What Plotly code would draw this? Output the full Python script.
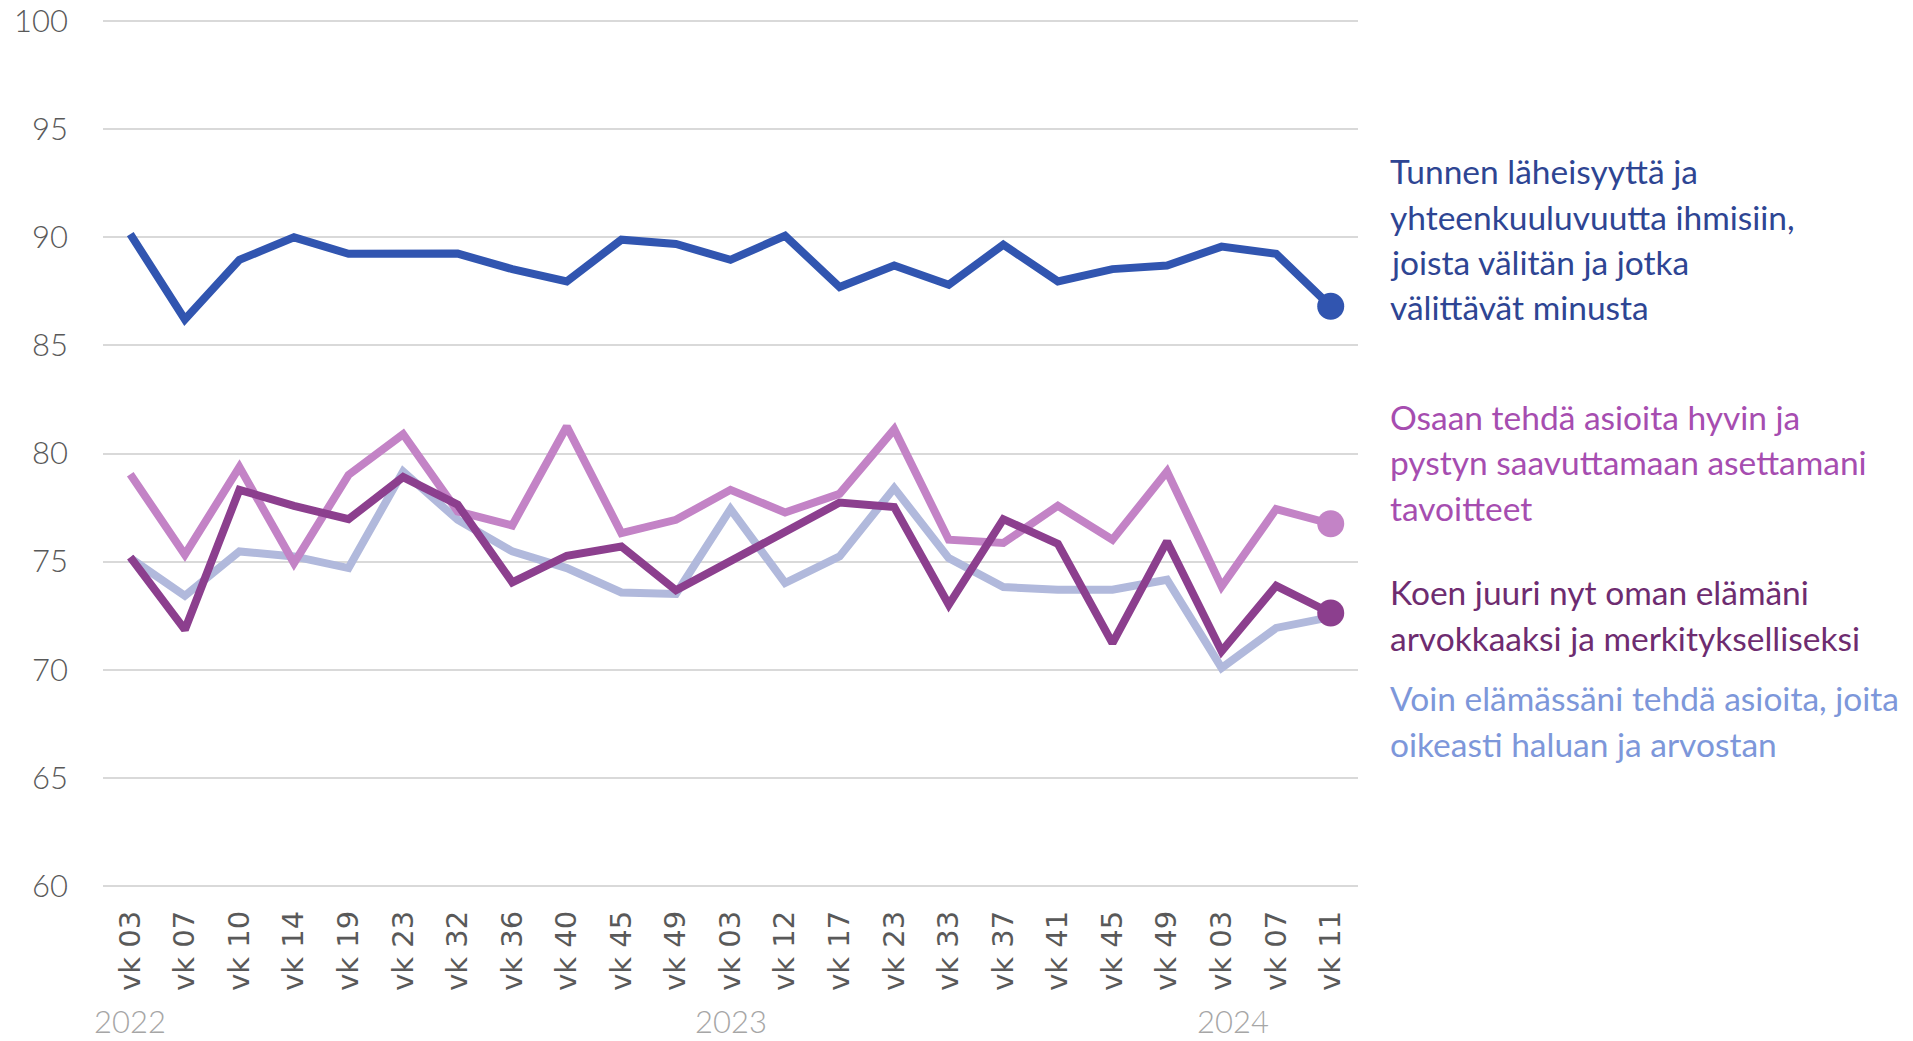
import plotly.graph_objects as go

weeks = ["vk 03", "vk 07", "vk 10", "vk 14", "vk 19", "vk 23", "vk 32", "vk 36", "vk 40", "vk 45", "vk 49",
         "vk 03", "vk 12", "vk 17", "vk 23", "vk 33", "vk 37", "vk 41", "vk 45", "vk 49",
         "vk 03", "vk 07", "vk 11"]
years = ["2022", "2023", "2024"]
year_pos = [0, 11, 20.2]

tunnen = [90.15, 86.2, 88.96, 90.0, 89.24, 89.27, 89.25, 88.53, 87.96, 89.89, 89.69,
          88.96, 90.07, 87.70, 88.70, 87.81, 89.66, 87.96, 88.53, 88.70, 89.57, 89.24, 86.81]
osaan = [79.04, 75.32, 79.37, 74.93, 79.01, 80.89, 77.32, 76.67, 81.25, 76.32, 76.93,
         78.32, 77.27, 78.14, 81.12, 76.01, 75.86, 77.58, 76.01, 79.17, 73.85, 77.43, 76.75]
koen = [75.21, 71.85, 78.32, 77.58, 76.96, 78.91, 77.63, 74.04, 75.27, 75.70, 73.67,
        75.02, 76.39, 77.73, 77.52, 73.0, 76.96, 75.82, 71.23, 75.93, 70.85, 73.88, 72.62]
voin = [75.16, 73.42, 75.47, 75.24, 74.70, 79.17, 76.93, 75.47, 74.70, 73.57, 73.50,
        77.43, 74.01, 75.24, 78.40, 75.16, 73.82, 73.70, 73.70, 74.16, 70.08, 71.93, 72.43]

labels = [
    ["Tunnen läheisyyttä ja", "yhteenkuuluvuutta ihmisiin,", "joista välitän ja jotka", "välittävät minusta"],
    ["Osaan tehdä asioita hyvin ja", "pystyn saavuttamaan asettamani", "tavoitteet"],
    ["Koen juuri nyt oman elämäni", "arvokkaaksi ja merkitykselliseksi"],
    ["Voin elämässäni tehdä asioita, joita", "oikeasti haluan ja arvostan"],
]

W, H = 1913, 1041
L, R, T, B = 103, 555, 19, 153
ph = H - T - B
pw = W - L - R

x = list(range(len(weeks)))
fig = go.Figure()

series = [
    (voin, "#B1B9DC", False),
    (osaan, "#C383C6", True),
    (koen, "#8C3F8E", True),
    (tunnen, "#3155B0", True),
]
for vals, col, endmark in series:
    fig.add_trace(go.Scatter(x=x, y=vals, mode="lines", line=dict(color=col, width=8),
                             hoverinfo="skip", showlegend=False))
    if endmark:
        fig.add_trace(go.Scatter(x=[x[-1]], y=[vals[-1]], mode="markers",
                                 marker=dict(color=col, size=27), hoverinfo="skip", showlegend=False))

font = "Lato, 'Open Sans', sans-serif"
label_colors = ["#2E4593", "#A64DB0", "#6E2C70", "#7D97DA"]
label_start = [171, 417, 592, 698]
spacing = 45.5
tx = (1388 - L) / pw
for lines, col, y0 in zip(labels, label_colors, label_start):
    for i, s in enumerate(lines):
        ypx = y0 + i * spacing
        fig.add_annotation(text=s, xref="paper", yref="paper", x=tx, y=1 - (ypx - T) / ph,
                           xanchor="left", yanchor="middle", showarrow=False,
                           font=dict(family=font, size=33.5, color=col))

for yr, pos in zip(years, year_pos):
    fig.add_annotation(text=yr, xref="x", yref="paper", x=pos, y=1 - (1021 - T) / ph,
                       xanchor="center", yanchor="middle", showarrow=False,
                       font=dict(family=font, size=31, color="#A6A6A6", weight=300))

fig.update_layout(
    width=W, height=H,
    margin=dict(l=L, r=R, t=T, b=B, pad=0, autoexpand=False),
    plot_bgcolor="white", paper_bgcolor="white",
    xaxis=dict(range=[-0.5, len(weeks) - 0.5], tickmode="array", tickvals=x, ticktext=weeks,
               tickangle=-90, showgrid=False, zeroline=False, showline=False, automargin=False,
               tickfont=dict(family="DejaVu Sans", size=29, color="#595959"),
               ticklabelstandoff=16),
    yaxis=dict(range=[59.9, 100.1], tickmode="array", tickvals=list(range(60, 101, 5)),
               showgrid=True, gridcolor="#D9D9D9", gridwidth=1.5,
               zeroline=False, showline=False, automargin=False,
               tickfont=dict(family=font, size=31, color="#595959", weight=300), ticklabelstandoff=34),
)

fig.write_html("out.html", config={"displayModeBar": False},
               post_script="document.body.style.margin='0';document.body.style.overflow='hidden';")
